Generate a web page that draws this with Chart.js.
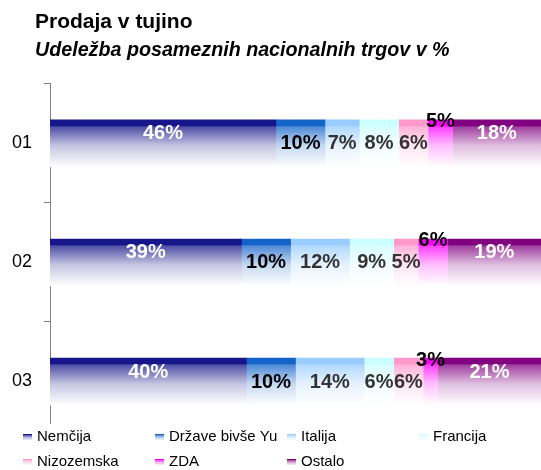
<!DOCTYPE html>
<html>
<head>
<meta charset="utf-8">
<title>Prodaja v tujino</title>
<script src="https://cdn.jsdelivr.net/npm/chart.js@4.4.1/dist/chart.umd.min.js"></script>
<style>
  html, body { margin: 0; padding: 0; background: #fff; }
  #chartContainer { width: 541px; height: 470px; }
</style>
</head>
<body>
<div id="chartContainer"><canvas id="salesChart"></canvas></div>
<script>
// Data (share of each market, %)
const categories = ["01", "02", "03"];
const markets = ["Nemčija", "Države bivše Yu", "Italija", "Francija", "Nizozemska", "ZDA", "Ostalo"];
const nemcija = [46, 39, 40];
const drzaveYu = [10, 10, 10];
const italija = [7, 12, 14];
const francija = [8, 9, 6];
const nizozemska = [6, 5, 6];
const zda = [5, 6, 3];
const ostalo = [18, 19, 21];
const series = [nemcija, drzaveYu, italija, francija, nizozemska, zda, ostalo];

// Styles
const FONT = '"Liberation Sans", Arial, sans-serif';
const colors = ["#16168a", "#1463c8", "#99ccff", "#ccffff", "#ff99cc", "#ff00ff", "#800080"];
const labelColors = ["#ffffff", "#000000", "#333333", "#333333", "#333333", "#000000", "#ffffff"];
const labelOffsets = [14, 24, 24, 24, 24, 2, 14]; // px below bar top
const BAR_H = 47;

// mix a hex colour with white
function fade(hex, t) {
    const n = parseInt(hex.slice(1), 16);
    const r = (n >> 16) & 255, g = (n >> 8) & 255, b = n & 255;
    const m = v => Math.round(v + (255 - v) * t);
    return `rgb(${m(r)},${m(g)},${m(b)})`;
}

function verticalGradient(ctx, color, top, height) {
    const g = ctx.createLinearGradient(0, top, 0, top + height);
    g.addColorStop(0, color);
    g.addColorStop(0.12, color);
    g.addColorStop(0.15, fade(color, 0.25));
    g.addColorStop(0.55, fade(color, 0.75));
    g.addColorStop(1, "#ffffff");
    return g;
}

// Percent labels on each segment
const valueLabels = {
    id: "valueLabels",
    afterDatasetsDraw(chart) {
        const c = chart.ctx;
        c.save();
        c.font = "bold 20px " + FONT;
        c.textAlign = "center";
        c.textBaseline = "middle";
        chart.data.datasets.forEach((ds, di) => {
            chart.getDatasetMeta(di).data.forEach((bar, i) => {
                const top = bar.y - BAR_H / 2;
                c.fillStyle = labelColors[di];
                c.fillText(ds.data[i] + "%", (bar.x + bar.base) / 2, top + labelOffsets[di]);
            });
        });
        c.restore();
    }
};

// Legend drawn at the bottom, over the end of the axis
const bottomLegend = {
    id: "bottomLegend",
    afterDraw(chart) {
        const c = chart.ctx;
        c.save();
        c.fillStyle = "#ffffff";
        c.fillRect(0, 424, chart.width, chart.height - 424);
        c.font = "15px " + FONT;
        c.textAlign = "left";
        c.textBaseline = "middle";
        markets.forEach((name, i) => {
            const x = 23 + (i % 4) * 132;
            const y = 437 + Math.floor(i / 4) * 25;
            c.fillStyle = verticalGradient(c, colors[i], y - 3, 7);
            c.fillRect(x, y - 3, 9, 6);
            c.fillStyle = "#000000";
            c.fillText(name, x + 14, y);
        });
        c.restore();
    }
};

const data = {
    labels: categories,
    datasets: markets.map((name, i) => ({
        label: name,
        data: series[i],
        barThickness: BAR_H,
        borderWidth: 0,
        backgroundColor: function (context) {
            const chart = context.chart;
            if (!chart.chartArea || context.dataIndex === undefined) return colors[i];
            const top = chart.scales.y.getPixelForValue(context.dataIndex) - BAR_H / 2;
            return verticalGradient(chart.ctx, colors[i], top, BAR_H);
        }
    }))
};

const options = {
    indexAxis: "y",
    responsive: true,
    maintainAspectRatio: false,
    animation: false,
    layout: { padding: { left: 35, right: 0, top: 0, bottom: 29 } },
    plugins: {
        legend: { display: false },
        tooltip: { enabled: false },
        title: {
            display: true,
            text: "Prodaja v tujino",
            align: "start",
            color: "#000",
            font: { family: FONT, size: 21, weight: "bold" },
            padding: { top: 10, bottom: 0 }
        },
        subtitle: {
            display: true,
            text: "Udeležba posameznih nacionalnih trgov v %",
            align: "start",
            color: "#000",
            font: { family: FONT, size: 19.7, weight: "bold", style: "italic" },
            padding: { top: 3.5, bottom: 21.6 }
        }
    },
    scales: {
        x: {
            stacked: true,
            min: 0,
            max: 100,
            display: false
        },
        y: {
            stacked: true,
            afterFit: function (scale) { scale.width = 15; },
            border: { display: true, color: "#808080", width: 1 },
            grid: {
                display: true,
                drawOnChartArea: false,
                drawTicks: true,
                tickLength: 6,
                color: "#808080"
            },
            ticks: {
                // mirrored with negative padding so the labels sit left of the narrow axis box
                mirror: true,
                crossAlign: "near",
                padding: -38,
                color: "#000",
                font: { family: FONT, size: 18 }
            }
        }
    }
};

const ctx = document.getElementById("salesChart").getContext("2d");
new Chart(ctx, {
    type: "bar",
    data: data,
    options: options,
    plugins: [valueLabels, bottomLegend]
});
</script>
</body>
</html>
